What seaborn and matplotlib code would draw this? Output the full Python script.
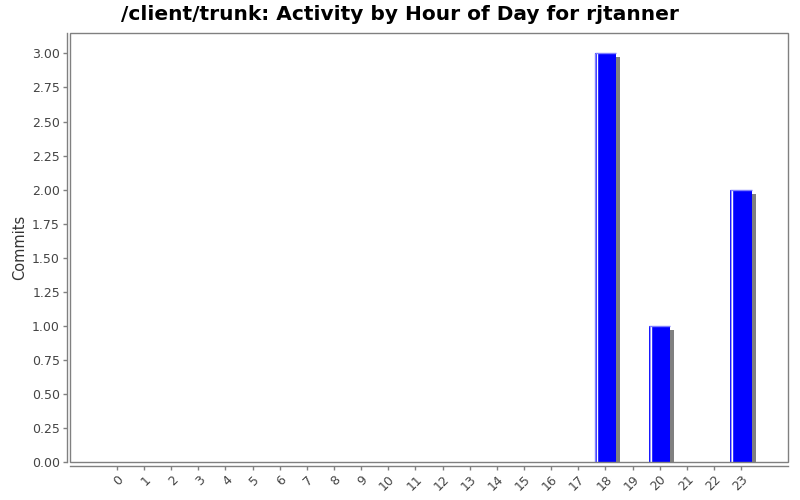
import matplotlib
matplotlib.use('Agg')
import matplotlib.pyplot as plt
import matplotlib.patheffects as pe
from matplotlib.patches import Rectangle
import seaborn as sns
import pandas as pd

# Commits per hour of day
hours = [str(h) for h in range(24)]
commits = [0, 0, 0, 0, 0, 0, 0, 0, 0, 0, 0, 0,
           0, 0, 0, 0, 0, 0, 3, 0, 1, 0, 0, 2]
y_ticks = [0.0, 0.25, 0.5, 0.75, 1.0, 1.25, 1.5, 1.75, 2.0, 2.25, 2.5, 2.75, 3.0]

df = pd.DataFrame({'hour': hours, 'commits': commits})

sns.set_style('white')
plt.rcParams['font.family'] = ['DejaVu Sans']

fig = plt.figure(figsize=(8, 5), dpi=100)
ax = fig.add_axes([70 / 800, 1 - 462 / 500, 718 / 800, 429 / 500])

sns.barplot(data=df, x='hour', y='commits', color='#0000ff', saturation=1,
            width=0.78, edgecolor='none', ax=ax)

# drop shadow like the original renderer, plus the light left/top highlight
shadow = [pe.SimplePatchShadow(offset=(2.9, -2.9), shadow_rgbFace='#808080', alpha=1.0), pe.Normal()]
for p in ax.patches:
    if p.get_height() > 0:
        p.set_path_effects(shadow)
        x0, w, h = p.get_x(), p.get_width(), p.get_height()
        ax.plot([x0 + 0.02, x0 + 0.02], [0, h], color='#8080ff', lw=1, solid_capstyle='butt')
        ax.plot([x0 + 0.07, x0 + 0.07], [0, h], color='white', lw=1, solid_capstyle='butt')
        ax.plot([x0, x0 + w], [h, h], color='#8080ff', lw=1, solid_capstyle='butt')

ax.set_xlim(-1.73, 24.73)
ax.set_ylim(0, 3.15)
ax.set_yticks(y_ticks)
ax.set_yticklabels([f'{v:.2f}' for v in y_ticks])

fig.text(0.5, 1 - 14 / 500, '/client/trunk: Activity by Hour of Day for rjtanner',
         fontsize=14.5, fontweight='bold', color='black', ha='center', va='center')
ax.set_xlabel('')
ax.set_ylabel('Commits', fontsize=10.5, color='#333333', labelpad=3.5)

# axis lines sit just outside the plot area
for side in ['top', 'right']:
    ax.spines[side].set_visible(False)
ax.spines['left'].set_position(('outward', 2.2))
ax.spines['bottom'].set_position(('outward', 2.9))
for side in ['left', 'bottom']:
    ax.spines[side].set_color('#808080')
    ax.spines[side].set_linewidth(1)
ax.add_patch(Rectangle((0, 0), 1, 1, transform=ax.transAxes, fill=False,
                       edgecolor='#808080', lw=1, clip_on=False, zorder=5))

ax.tick_params(axis='both', which='both', direction='out', length=3, width=1,
               color='#808080', labelcolor='#444444', labelsize=9)
ax.tick_params(axis='x', pad=2, bottom=True)
ax.tick_params(axis='y', left=True, pad=2)
for lbl in ax.get_xticklabels():
    lbl.set_rotation(45)
    lbl.set_ha('right')
    lbl.set_rotation_mode('anchor')

fig.savefig('out.png', dpi=100)
